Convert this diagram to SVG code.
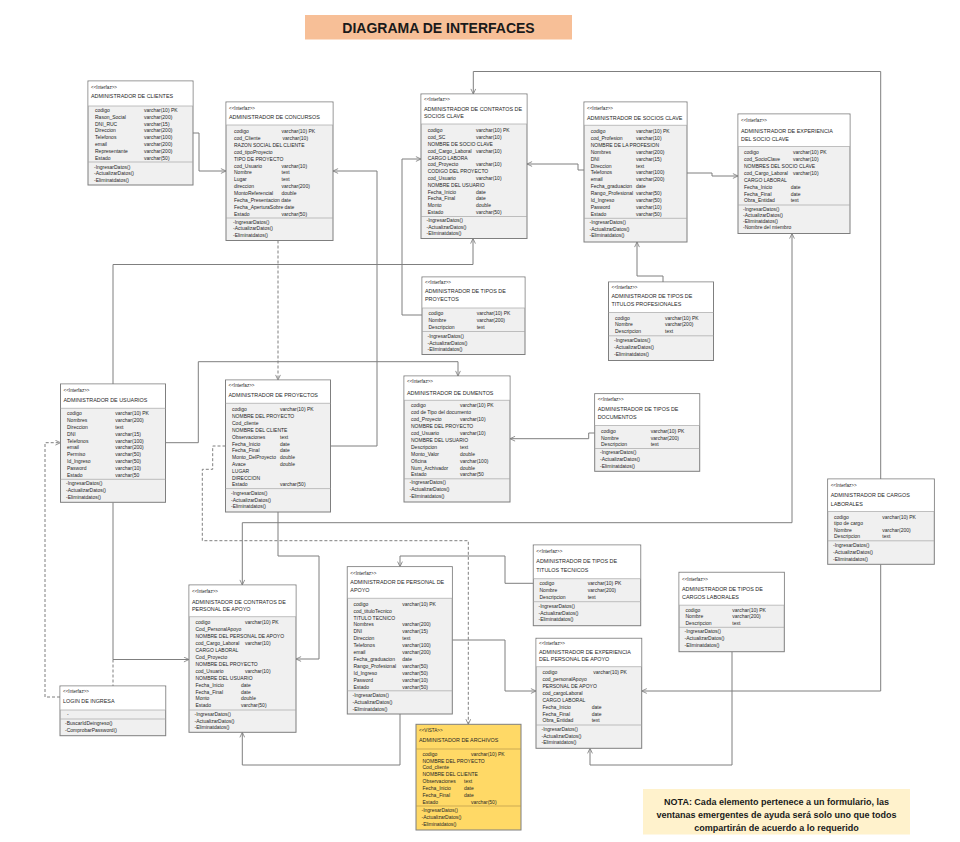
<svg xmlns="http://www.w3.org/2000/svg" width="960" height="842" viewBox="0 0 960 842">
<style>
.b{fill:#F0F0F0;stroke:#7F7F7F;stroke-width:1}
.h{fill:#FFFFFF}
.vb{fill:#FFD966;stroke:#7F7F7F;stroke-width:1}
.s{stroke:#A6A6A6;stroke-width:0.7;fill:none}
text{font-family:"Liberation Sans",Arial,sans-serif;fill:#262626}
.i{font-size:4.6px}
.t{font-size:5.4px}
.r{font-size:5px}
.d{stroke-dasharray:3 2}
.ttl{font-size:14px;font-weight:bold;fill:#1a1a1a}
.nt{font-size:9px;font-weight:bold;fill:#1a1a1a}
</style>
<defs>
<marker id="ah" viewBox="0 0 10 10" refX="9.5" refY="5" markerWidth="6" markerHeight="6" orient="auto" markerUnits="userSpaceOnUse">
<path d="M1,1 L9.5,5 L1,9" fill="none" stroke="#7F7F7F" stroke-width="1.4"/>
</marker>
</defs>
<rect width="960" height="842" fill="#FFFFFF"/>

<g id="title">
<rect x="305" y="15" width="267" height="24.5" fill="#F7BF97"/>
<text class="ttl" x="438.5" y="33" text-anchor="middle">DIAGRAMA DE INTERFACES</text>
</g>

<g id="connectors" fill="none" stroke="#7F7F7F" stroke-width="1">
<path d="M193,133H199V171H226" marker-end="url(#ah)"/>
<path d="M330.5,446H377V171H333" marker-end="url(#ah)"/>
<path d="M422,315H402V159H421" marker-end="url(#ah)"/>
<path d="M113,384V264.5H473V238.5" marker-end="url(#ah)"/>
<path d="M165.5,442.7H198.3V361.7H458V376" marker-end="url(#ah)"/>
<path d="M584,170H578V164H527" marker-end="url(#ah)"/>
<path d="M687,173H712V176H738" marker-end="url(#ah)"/>
<path d="M663,282V276H637V242" marker-end="url(#ah)"/>
<path d="M880.7,479V71.5H473.3V94" marker-end="url(#ah)"/>
<path d="M792,522.7H242.3V585" marker-end="url(#ah)"/>
<path d="M792,522.7V233.5" marker-end="url(#ah)"/>
<path d="M278,512V556H319V659H296" marker-end="url(#ah)"/>
<path d="M113,502.3V659.5H189" marker-end="url(#ah)"/>
<path d="M533.3,583.3H505V556H400V566.7" marker-end="url(#ah)"/>
<path d="M452.3,640H505V691H536" marker-end="url(#ah)"/>
<path d="M400,714V765H242.3V732.3" marker-end="url(#ah)"/>
<path d="M594.7,433H588.7V438.7H510" marker-end="url(#ah)"/>
<path d="M880.7,564.3V691H641.7" marker-end="url(#ah)"/>
<path d="M732,651.7V765H590V748.3" marker-end="url(#ah)"/>
<path class="d" d="M278,240.5V380" marker-end="url(#ah)"/>
<path class="d" d="M225.5,446H212.7V469.3H202.3V540.7H468.3V724.3" marker-end="url(#ah)"/>
<path class="d" d="M60,697H45V442.7H60.5" marker-end="url(#ah)"/>
<path class="d" d="M113,659.5V686"/>
</g>

<g id="clientes">
<rect class="b" x="88" y="81" width="105" height="104"/>
<rect class="h" x="88.5" y="81.5" width="104" height="24.5"/>
<path class="s" d="M88,106H193M88,162H193"/>
<text class="i" x="91" y="88.5">&lt;&lt;Interfaz&gt;&gt;</text>
<text class="t" x="91" y="98.3">ADMINISTRADOR DE CLIENTES</text>
<text class="r"><tspan x="95" y="112">codigo</tspan><tspan x="95" y="118.8">Rason_Social</tspan><tspan x="95" y="125.6">DNI_RUC</tspan><tspan x="95" y="132.4">Direccion</tspan><tspan x="95" y="139.2">Telefonos</tspan><tspan x="95" y="146">email</tspan><tspan x="95" y="152.8">Representante</tspan><tspan x="95" y="159.6">Estado</tspan></text>
<text class="r"><tspan x="144" y="112">varchar(10) PK</tspan><tspan x="144" y="118.8">varchar(200)</tspan><tspan x="144" y="125.6">varchar(15)</tspan><tspan x="144" y="132.4">varchar(200)</tspan><tspan x="144" y="139.2">varchar(100)</tspan><tspan x="144" y="146">varchar(200)</tspan><tspan x="144" y="152.8">varchar(200)</tspan><tspan x="144" y="159.6">varchar(50)</tspan></text>
<text class="r"><tspan x="94" y="168.7">-IngresarDatos()</tspan><tspan x="94" y="175.4">-ActualizarDatos()</tspan><tspan x="94" y="182.1">-Eliminatdatos()</tspan></text>
</g>

<g id="concursos">
<rect class="b" x="226" y="102" width="107" height="138.5"/>
<rect class="h" x="226.5" y="102.5" width="106" height="22.5"/>
<path class="s" d="M226,125H333M226,218H333"/>
<text class="i" x="229" y="109.5">&lt;&lt;Interfaz&gt;&gt;</text>
<text class="t" x="229" y="119.3">ADMINISTRADOR DE CONCURSOS</text>
<text class="r"><tspan x="234" y="133">codigo</tspan><tspan x="234" y="139.9">cod_Cliente</tspan><tspan x="234" y="146.8">RAZON SOCIAL DEL CLIENTE</tspan><tspan x="234" y="153.7">cod_tipoProyecto</tspan><tspan x="234" y="160.6">TIPO DE PROYECTO</tspan><tspan x="234" y="167.5">cod_Usuario</tspan><tspan x="234" y="174.4">Nombre</tspan><tspan x="234" y="181.3">Lugar</tspan><tspan x="234" y="188.2">direccion</tspan><tspan x="234" y="195.1">MontoReferencial</tspan><tspan x="234" y="202">Fecha_Presentacion date</tspan><tspan x="234" y="208.9">Fecha_AperturaSobre date</tspan><tspan x="234" y="215.8">Estado</tspan></text>
<text class="r"><tspan x="281.5" y="133">varchar(10) PK</tspan><tspan x="282.5" y="139.9">varchar(10)</tspan><tspan x="281.5" y="167.5">varchar(10)</tspan><tspan x="281.5" y="174.4">text</tspan><tspan x="281.5" y="181.3">text</tspan><tspan x="281.5" y="188.2">varchar(200)</tspan><tspan x="281.5" y="195.1">double</tspan><tspan x="281.5" y="215.8">varchar(50)</tspan></text>
<text class="r"><tspan x="233" y="223.7">-IngresarDatos()</tspan><tspan x="233" y="230.4">-ActualizarDatos()</tspan><tspan x="233" y="237">-Eliminatdatos()</tspan></text>
</g>

<g id="contratos-socios-clave">
<rect class="b" x="421" y="94" width="106" height="144.5"/>
<rect class="h" x="421.5" y="94.5" width="105" height="29.5"/>
<path class="s" d="M421,124H527M421,216.5H527"/>
<text class="i" x="424" y="101">&lt;&lt;Interfaz&gt;&gt;</text>
<text class="t"><tspan x="424" y="110.5">ADMINISTRADOR DE CONTRATOS DE</tspan><tspan x="424" y="118">SOCIOS CLAVE</tspan></text>
<text class="r"><tspan x="427.7" y="132.4">codigo</tspan><tspan x="427.7" y="139.2">cod_SC</tspan><tspan x="427.7" y="146">NOMBRE DE SOCIO CLAVE</tspan><tspan x="427.7" y="152.8">cod_Cargo_Laboral</tspan><tspan x="427.7" y="159.6">CARGO LABORA</tspan><tspan x="427.7" y="166.4">cod_Proyecto</tspan><tspan x="427.7" y="173.2">CODIGO DEL PROYECTO</tspan><tspan x="427.7" y="180">cod_Usuario</tspan><tspan x="427.7" y="186.8">NOMBRE DEL USUARIO</tspan><tspan x="427.7" y="193.6">Fecha_Inicio</tspan><tspan x="427.7" y="200.4">Fecha_Final</tspan><tspan x="427.7" y="207.2">Monto</tspan><tspan x="427.7" y="214">Estado</tspan></text>
<text class="r"><tspan x="476" y="132.4">varchar(10) PK</tspan><tspan x="476" y="139.2">varchar(10)</tspan><tspan x="476" y="152.8">varchar(10)</tspan><tspan x="476" y="166.4">varchar(10)</tspan><tspan x="476" y="180">varchar(10)</tspan><tspan x="476" y="193.6">date</tspan><tspan x="476" y="200.4">date</tspan><tspan x="476" y="207.2">double</tspan><tspan x="476" y="214">varchar(50)</tspan></text>
<text class="r"><tspan x="426.5" y="222.4">-IngresarDatos()</tspan><tspan x="426.5" y="228.8">-ActualizarDatos()</tspan><tspan x="426.5" y="235.2">-Eliminatdatos()</tspan></text>
</g>

<g id="socios-clave">
<rect class="b" x="584" y="102" width="103" height="140"/>
<rect class="h" x="584.5" y="102.5" width="102" height="22.8"/>
<path class="s" d="M584,125.3H687M584,218.3H687"/>
<text class="i" x="587" y="110.2">&lt;&lt;Interfaz&gt;&gt;</text>
<text class="t" x="587" y="120">ADMINISTRADOR DE SOCIOS CLAVE</text>
<text class="r"><tspan x="590.7" y="133">codigo</tspan><tspan x="590.7" y="139.9">cod_Profesion</tspan><tspan x="590.7" y="146.8">NOMBRE DE LA PROFESION</tspan><tspan x="590.7" y="153.7">Nombres</tspan><tspan x="590.7" y="160.6">DNI</tspan><tspan x="590.7" y="167.5">Direccion</tspan><tspan x="590.7" y="174.4">Telefonos</tspan><tspan x="590.7" y="181.3">email</tspan><tspan x="590.7" y="188.2">Fecha_graduacion</tspan><tspan x="590.7" y="195.1">Rango_Profesional</tspan><tspan x="590.7" y="202">Id_Ingreso</tspan><tspan x="590.7" y="208.9">Pasword</tspan><tspan x="590.7" y="215.8">Estado</tspan></text>
<text class="r"><tspan x="636" y="133">varchar(10) PK</tspan><tspan x="636" y="139.9">varchar(10)</tspan><tspan x="636" y="153.7">varchar(200)</tspan><tspan x="636" y="160.6">varchar(15)</tspan><tspan x="636" y="167.5">text</tspan><tspan x="636" y="174.4">varchar(100)</tspan><tspan x="636" y="181.3">varchar(200)</tspan><tspan x="636" y="188.2">date</tspan><tspan x="636" y="195.1">varchar(50)</tspan><tspan x="636" y="202">varchar(50)</tspan><tspan x="636" y="208.9">varchar(10)</tspan><tspan x="636" y="215.8">varchar(50)</tspan></text>
<text class="r"><tspan x="589.5" y="224.4">-IngresarDatos()</tspan><tspan x="589.5" y="230.8">-ActualizarDatos()</tspan><tspan x="589.5" y="237.2">-Eliminatdatos()</tspan></text>
</g>

<g id="experiencia-socio-clave">
<rect class="b" x="738" y="114" width="112" height="119.5"/>
<rect class="h" x="738.5" y="114.5" width="111" height="32"/>
<path class="s" d="M738,146.5H850M738,205H850"/>
<text class="i" x="741" y="121.5">&lt;&lt;Interfaz&gt;&gt;</text>
<text class="t"><tspan x="741" y="132.5">ADMINISTRADOR DE EXPERIENCIA</tspan><tspan x="741" y="140.5">DEL SOCIO CLAVE</tspan></text>
<text class="r"><tspan x="744" y="154.4">codigo</tspan><tspan x="744" y="161.2">cod_SocioClave</tspan><tspan x="744" y="168.1">NOMBRES DEL SOCIO CLAVE</tspan><tspan x="744" y="174.9">cod_Cargo_Laboral</tspan><tspan x="744" y="181.8">CARGO LABORAL</tspan><tspan x="744" y="188.6">Fecha_Inicio</tspan><tspan x="744" y="195.5">Fecha_Final</tspan><tspan x="744" y="202.3">Obra_Entidad</tspan></text>
<text class="r"><tspan x="793" y="154.4">varchar(10) PK</tspan><tspan x="793" y="161.2">varchar(10)</tspan><tspan x="793" y="174.9">varchar(10)</tspan><tspan x="790.7" y="188.6">date</tspan><tspan x="790.7" y="195.5">date</tspan><tspan x="790.7" y="202.3">text</tspan></text>
<text class="r"><tspan x="743" y="210.8">-IngresarDatos()</tspan><tspan x="743" y="217">-ActualizarDatos()</tspan><tspan x="743" y="223.2">-Eliminatdatos()</tspan><tspan x="743" y="229.4">-Nombre del miembro</tspan></text>
</g>

<g id="tipos-proyectos">
<rect class="b" x="422" y="277" width="103" height="77.5"/>
<rect class="h" x="422.5" y="277.5" width="102" height="30.5"/>
<path class="s" d="M422,308H525M422,331.5H525"/>
<text class="i" x="425" y="284">&lt;&lt;Interfaz&gt;&gt;</text>
<text class="t"><tspan x="425" y="293.3">ADMINISTRADOR DE TIPOS DE</tspan><tspan x="425" y="301.3">PROYECTOS</tspan></text>
<text class="r"><tspan x="428.5" y="315">codigo</tspan><tspan x="428.5" y="322">Nombre</tspan><tspan x="428.5" y="329">Descripcion</tspan></text>
<text class="r"><tspan x="476.7" y="315">varchar(10) PK</tspan><tspan x="476.7" y="322">varchar(200)</tspan><tspan x="476.7" y="329">text</tspan></text>
<text class="r"><tspan x="427.5" y="338">-IngresarDatos()</tspan><tspan x="427.5" y="344.7">-ActualizarDatos()</tspan><tspan x="427.5" y="351.3">-Eliminatdatos()</tspan></text>
</g>

<g id="tipos-titulos-profesionales">
<rect class="b" x="608.5" y="282" width="105" height="78.5"/>
<rect class="h" x="609" y="282.5" width="104" height="30"/>
<path class="s" d="M608.5,312.5H713.5M608.5,335.8H713.5"/>
<text class="i" x="611.5" y="288.7">&lt;&lt;Interfaz&gt;&gt;</text>
<text class="t"><tspan x="611.5" y="298.3">ADMINISTRADOR DE TIPOS DE</tspan><tspan x="611.5" y="306.3">TITULOS PROFESIONALES</tspan></text>
<text class="r"><tspan x="615" y="319.7">codigo</tspan><tspan x="615" y="326.4">Nombre</tspan><tspan x="615" y="333.1">Descripcion</tspan></text>
<text class="r"><tspan x="665" y="319.7">varchar(10) PK</tspan><tspan x="665" y="326.4">varchar(200)</tspan><tspan x="665" y="333.1">text</tspan></text>
<text class="r"><tspan x="614" y="342.4">-IngresarDatos()</tspan><tspan x="614" y="349">-ActualizarDatos()</tspan><tspan x="614" y="355.6">-Eliminatdatos()</tspan></text>
</g>

<g id="usuarios">
<rect class="b" x="60.5" y="384" width="105" height="118.3"/>
<rect class="h" x="61" y="384.5" width="104" height="23.8"/>
<path class="s" d="M60.5,408.3H165.5M60.5,479.3H165.5"/>
<text class="i" x="63.5" y="391.5">&lt;&lt;Interfaz&gt;&gt;</text>
<text class="t" x="63.5" y="401.7">ADMINISTRADOR DE USUARIOS</text>
<text class="r"><tspan x="67" y="415.4">codigo</tspan><tspan x="67" y="422.2">Nombres</tspan><tspan x="67" y="429">Direccion</tspan><tspan x="67" y="435.8">DNI</tspan><tspan x="67" y="442.6">Telefonos</tspan><tspan x="67" y="449.4">email</tspan><tspan x="67" y="456.2">Permiso</tspan><tspan x="67" y="463">Id_Ingreso</tspan><tspan x="67" y="469.8">Pasword</tspan><tspan x="67" y="476.6">Estado</tspan></text>
<text class="r"><tspan x="115.3" y="415.4">varchar(10) PK</tspan><tspan x="115.3" y="422.2">varchar(200)</tspan><tspan x="115.3" y="429">text</tspan><tspan x="115.3" y="435.8">varchar(15)</tspan><tspan x="115.3" y="442.6">varchar(100)</tspan><tspan x="115.3" y="449.4">varchar(200)</tspan><tspan x="115.3" y="456.2">varchar(50)</tspan><tspan x="115.3" y="463">varchar(50)</tspan><tspan x="115.3" y="469.8">varchar(10)</tspan><tspan x="115.3" y="476.6">varchar(50</tspan></text>
<text class="r"><tspan x="66" y="485.4">-IngresarDatos()</tspan><tspan x="66" y="492">-ActualizarDatos()</tspan><tspan x="66" y="498.7">-Eliminatdatos()</tspan></text>
</g>

<g id="proyectos">
<rect class="b" x="225.5" y="380" width="105" height="132"/>
<rect class="h" x="226" y="380.5" width="104" height="22.8"/>
<path class="s" d="M225.5,403.3H330.5M225.5,488.6H330.5"/>
<text class="i" x="228.5" y="387.2">&lt;&lt;Interfaz&gt;&gt;</text>
<text class="t" x="228.5" y="397.3">ADMINISTRADOR DE PROYECTOS</text>
<text class="r"><tspan x="232" y="411.4">codigo</tspan><tspan x="232" y="418.2">NOMBRE DEL PROYECTO</tspan><tspan x="232" y="425">Cod_cliente</tspan><tspan x="232" y="431.9">NOMBRE DEL CLIENTE</tspan><tspan x="232" y="438.7">Observaciones</tspan><tspan x="232" y="445.5">Fecha_Inicio</tspan><tspan x="232" y="452.3">Fecha_Final</tspan><tspan x="232" y="459.1">Monto_DelProyecto</tspan><tspan x="232" y="466">Avace</tspan><tspan x="232" y="472.8">LUGAR</tspan><tspan x="232" y="479.6">DIRECCION</tspan><tspan x="232" y="486.4">Estado</tspan></text>
<text class="r"><tspan x="280" y="411.4">varchar(10) PK</tspan><tspan x="280" y="438.7">text</tspan><tspan x="280" y="445.5">date</tspan><tspan x="280" y="452.3">date</tspan><tspan x="280" y="459.1">double</tspan><tspan x="280" y="466">double</tspan><tspan x="280" y="486.4">varchar(50)</tspan></text>
<text class="r"><tspan x="231" y="495">-IngresarDatos()</tspan><tspan x="231" y="501.7">-ActualizarDatos()</tspan><tspan x="231" y="508.4">-Eliminatdatos()</tspan></text>
</g>

<g id="documentos">
<rect class="b" x="404" y="376" width="106" height="126"/>
<rect class="h" x="404.5" y="376.5" width="105" height="23.8"/>
<path class="s" d="M404,400.3H510M404,478.8H510"/>
<text class="i" x="407" y="382.8">&lt;&lt;Interfaz&gt;&gt;</text>
<text class="t" x="407" y="394.7">ADMINISTRADOR DE DUMENTOS</text>
<text class="r"><tspan x="411" y="407.4">codigo</tspan><tspan x="411" y="414.3">cod de Tipo del documento</tspan><tspan x="411" y="421.2">cod_Proyecto</tspan><tspan x="411" y="428.1">NOMBRE DEL PROYECTO</tspan><tspan x="411" y="435">cod_Usuario</tspan><tspan x="411" y="441.9">NOMBRE DEL USUARIO</tspan><tspan x="411" y="448.8">Descripcion</tspan><tspan x="411" y="455.7">Monto_Valor</tspan><tspan x="411" y="462.6">Oficina</tspan><tspan x="411" y="469.5">Num_Archivador</tspan><tspan x="411" y="476.4">Estado</tspan></text>
<text class="r"><tspan x="460" y="407.4">varchar(10) PK</tspan><tspan x="460" y="421.2">varchar(10)</tspan><tspan x="460" y="435">varchar(10)</tspan><tspan x="460" y="448.8">text</tspan><tspan x="460" y="455.7">double</tspan><tspan x="460" y="462.6">varchar(100)</tspan><tspan x="460" y="469.5">double</tspan><tspan x="460" y="476.4">varchar(50</tspan></text>
<text class="r"><tspan x="409.5" y="484.4">-IngresarDatos()</tspan><tspan x="409.5" y="491.4">-ActualizarDatos()</tspan><tspan x="409.5" y="498.2">-Eliminatdatos()</tspan></text>
</g>

<g id="tipos-documentos">
<rect class="b" x="594.7" y="393.7" width="105" height="77.6"/>
<rect class="h" x="595.2" y="394.2" width="104" height="31.3"/>
<path class="s" d="M594.7,425.5H699.7M594.7,448.5H699.7"/>
<text class="i" x="597.7" y="400.8">&lt;&lt;Interfaz&gt;&gt;</text>
<text class="t"><tspan x="597.7" y="411.2">ADMINISTRADOR DE TIPOS DE</tspan><tspan x="597.7" y="419.2">DOCUMENTOS</tspan></text>
<text class="r"><tspan x="601" y="432.8">codigo</tspan><tspan x="601" y="439.5">Nombre</tspan><tspan x="601" y="446.2">Descripcion</tspan></text>
<text class="r"><tspan x="650.7" y="432.8">varchar(10) PK</tspan><tspan x="650.7" y="439.5">varchar(200)</tspan><tspan x="650.7" y="446.2">text</tspan></text>
<text class="r"><tspan x="600" y="454.4">-IngresarDatos()</tspan><tspan x="600" y="461.1">-ActualizarDatos()</tspan><tspan x="600" y="467.8">-Eliminatdatos()</tspan></text>
</g>

<g id="cargos-laborales">
<rect class="b" x="827.7" y="479" width="106.6" height="85.3"/>
<rect class="h" x="828.2" y="479.5" width="105.6" height="32"/>
<path class="s" d="M827.7,511.5H934.3M827.7,540.8H934.3"/>
<text class="i" x="830.7" y="486.5">&lt;&lt;Interfaz&gt;&gt;</text>
<text class="t"><tspan x="830.7" y="497.4">ADMINISTRADOR DE CARGOS</tspan><tspan x="830.7" y="506">LABORALES</tspan></text>
<text class="r"><tspan x="834" y="518.8">codigo</tspan><tspan x="834" y="525.3">tipo de cargo</tspan><tspan x="834" y="531.8">Nombre</tspan><tspan x="834" y="538.3">Descripcion</tspan></text>
<text class="r"><tspan x="882.3" y="518.8">varchar(10) PK</tspan><tspan x="882.3" y="531.8">varchar(200)</tspan><tspan x="882.3" y="538.3">text</tspan></text>
<text class="r"><tspan x="833" y="547.3">-IngresarDatos()</tspan><tspan x="833" y="554.1">-ActualizarDatos()</tspan><tspan x="833" y="560.9">-Eliminatdatos()</tspan></text>
</g>

<g id="tipos-titulos-tecnicos">
<rect class="b" x="533.3" y="545" width="107.4" height="80.7"/>
<rect class="h" x="533.8" y="545.5" width="106.4" height="33.2"/>
<path class="s" d="M533.3,578.7H640.7M533.3,601.7H640.7"/>
<text class="i" x="536.3" y="553">&lt;&lt;Interfaz&gt;&gt;</text>
<text class="t"><tspan x="536.3" y="563.4">ADMINISTRADOR DE TIPOS DE</tspan><tspan x="536.3" y="572.4">TITULOS TECNICOS</tspan></text>
<text class="r"><tspan x="539.5" y="585">codigo</tspan><tspan x="539.5" y="592">Nombre</tspan><tspan x="539.5" y="599">Descripcion</tspan></text>
<text class="r"><tspan x="587.7" y="585">varchar(10) PK</tspan><tspan x="587.7" y="592">varchar(200)</tspan><tspan x="587.7" y="599">text</tspan></text>
<text class="r"><tspan x="538.5" y="608">-IngresarDatos()</tspan><tspan x="538.5" y="614.5">-ActualizarDatos()</tspan><tspan x="538.5" y="621">-Eliminatdatos()</tspan></text>
</g>

<g id="tipos-cargos-laborales">
<rect class="b" x="679" y="572.3" width="105.3" height="79.4"/>
<rect class="h" x="679.5" y="572.8" width="104.3" height="32.4"/>
<path class="s" d="M679,605.2H784.3M679,627.3H784.3"/>
<text class="i" x="682" y="580.6">&lt;&lt;Interfaz&gt;&gt;</text>
<text class="t"><tspan x="682" y="590.7">ADMINISTRADOR DE TIPOS DE</tspan><tspan x="682" y="599.4">CARGOS LABORALES</tspan></text>
<text class="r"><tspan x="685.5" y="611.5">codigo</tspan><tspan x="685.5" y="618.2">Nombre</tspan><tspan x="685.5" y="624.9">Descripcion</tspan></text>
<text class="r"><tspan x="732.3" y="611.5">varchar(10) PK</tspan><tspan x="732.3" y="618.2">varchar(200)</tspan><tspan x="732.3" y="624.9">text</tspan></text>
<text class="r"><tspan x="684.5" y="633.4">-IngresarDatos()</tspan><tspan x="684.5" y="640.3">-ActualizarDatos()</tspan><tspan x="684.5" y="647.2">-Eliminatdatos()</tspan></text>
</g>

<g id="experiencia-personal-apoyo">
<rect class="b" x="536" y="638.3" width="105.7" height="110"/>
<rect class="h" x="536.5" y="638.8" width="104.7" height="27.9"/>
<path class="s" d="M536,666.7H641.7M536,725H641.7"/>
<text class="i" x="539" y="645">&lt;&lt;Interfaz&gt;&gt;</text>
<text class="t"><tspan x="539" y="653.5">ADMINISTRADOR DE EXPERIENCIA</tspan><tspan x="539" y="661">DEL PERSONAL DE APOYO</tspan></text>
<text class="r"><tspan x="542.5" y="674.4">codigo</tspan><tspan x="542.5" y="681.2">cod_personalApoyo</tspan><tspan x="542.5" y="688.1">PERSONAL DE APOYO</tspan><tspan x="542.5" y="694.9">cod_cargoLaboral</tspan><tspan x="542.5" y="701.8">CARGO LABORAL</tspan><tspan x="542.5" y="708.6">Fecha_Inicio</tspan><tspan x="542.5" y="715.5">Fecha_Final</tspan><tspan x="542.5" y="722.3">Obra_Entidad</tspan></text>
<text class="r"><tspan x="593.3" y="674.4">varchar(10) PK</tspan><tspan x="591.7" y="708.6">date</tspan><tspan x="591.7" y="715.5">date</tspan><tspan x="591.7" y="722.3">text</tspan></text>
<text class="r"><tspan x="541.5" y="731">-IngresarDatos()</tspan><tspan x="541.5" y="737.7">-ActualizarDatos()</tspan><tspan x="541.5" y="744.4">-Eliminatdatos()</tspan></text>
</g>

<g id="contratos-personal-apoyo">
<rect class="b" x="189" y="585" width="107" height="147.3"/>
<rect class="h" x="189.5" y="585.5" width="106" height="31.2"/>
<path class="s" d="M189,616.7H296M189,710H296"/>
<text class="i" x="192" y="593">&lt;&lt;Interfaz&gt;&gt;</text>
<text class="t"><tspan x="192" y="604">ADMINISTADOR DE CONTRATOS DE</tspan><tspan x="192" y="611">PERSONAL DE APOYO</tspan></text>
<text class="r"><tspan x="195.5" y="624">codigo</tspan><tspan x="195.5" y="630.9">Cod_PersonalApoyo</tspan><tspan x="195.5" y="637.9">NOMBRE DEL PERSONAL DE APOYO</tspan><tspan x="195.5" y="644.8">cod_Cargo_Laboral</tspan><tspan x="195.5" y="651.8">CARGO LABORAL</tspan><tspan x="195.5" y="658.7">Cod_Proyecto</tspan><tspan x="195.5" y="665.7">NOMBRE DEL PROYECTO</tspan><tspan x="195.5" y="672.6">cod_Usuario</tspan><tspan x="195.5" y="679.6">NOMBRE DEL USUARIO</tspan><tspan x="195.5" y="686.5">Fecha_Inicio</tspan><tspan x="195.5" y="693.5">Fecha_Final</tspan><tspan x="195.5" y="700.4">Monto</tspan><tspan x="195.5" y="707.4">Estado</tspan></text>
<text class="r"><tspan x="245" y="624">varchar(10) PK</tspan><tspan x="245" y="644.8">varchar(10)</tspan><tspan x="245" y="672.6">varchar(10)</tspan><tspan x="241" y="686.5">date</tspan><tspan x="241" y="693.5">date</tspan><tspan x="241" y="700.4">double</tspan><tspan x="241" y="707.4">varchar(50)</tspan></text>
<text class="r"><tspan x="194.5" y="716.4">-IngresarDatos()</tspan><tspan x="194.5" y="722.6">-ActualizarDatos()</tspan><tspan x="194.5" y="728.9">-Eliminatdatos()</tspan></text>
</g>

<g id="personal-apoyo">
<rect class="b" x="347.3" y="566.7" width="105" height="147.3"/>
<rect class="h" x="347.8" y="567.2" width="104" height="31.1"/>
<path class="s" d="M347.3,598.3H452.3M347.3,690.8H452.3"/>
<text class="i" x="350.3" y="574.6">&lt;&lt;Interfaz&gt;&gt;</text>
<text class="t"><tspan x="350.3" y="584.4">ADMINISTRADOR DE PERSONAL DE</tspan><tspan x="350.3" y="592.4">APOYO</tspan></text>
<text class="r"><tspan x="353.5" y="605.7">codigo</tspan><tspan x="353.5" y="612.6">cod_tituloTecnico</tspan><tspan x="353.5" y="619.5">TITULO TECNICO</tspan><tspan x="353.5" y="626.4">Nombres</tspan><tspan x="353.5" y="633.3">DNI</tspan><tspan x="353.5" y="640.2">Direccion</tspan><tspan x="353.5" y="647.1">Telefonos</tspan><tspan x="353.5" y="654">email</tspan><tspan x="353.5" y="660.9">Fecha_graduacion</tspan><tspan x="353.5" y="667.8">Rango_Profesional</tspan><tspan x="353.5" y="674.7">Id_Ingreso</tspan><tspan x="353.5" y="681.6">Pasword</tspan><tspan x="353.5" y="688.5">Estado</tspan></text>
<text class="r"><tspan x="402.3" y="605.7">varchar(10) PK</tspan><tspan x="402.3" y="626.4">varchar(200)</tspan><tspan x="402.3" y="633.3">varchar(15)</tspan><tspan x="402.3" y="640.2">text</tspan><tspan x="402.3" y="647.1">varchar(100)</tspan><tspan x="402.3" y="654">varchar(200)</tspan><tspan x="402.3" y="660.9">date</tspan><tspan x="402.3" y="667.8">varchar(50)</tspan><tspan x="402.3" y="674.7">varchar(50)</tspan><tspan x="402.3" y="681.6">varchar(10)</tspan><tspan x="402.3" y="688.5">varchar(50)</tspan></text>
<text class="r"><tspan x="352.5" y="697.4">-IngresarDatos()</tspan><tspan x="352.5" y="704">-ActualizarDatos()</tspan><tspan x="352.5" y="710.6">-Eliminatdatos()</tspan></text>
</g>

<g id="login">
<rect class="b" x="60" y="686" width="105.7" height="49.7"/>
<rect class="h" x="60.5" y="686.5" width="104.7" height="23.5"/>
<path class="s" d="M60,710H165.7M60,719H165.7"/>
<text class="i" x="63" y="693.2">&lt;&lt;Interfaz&gt;&gt;</text>
<text class="t" x="63" y="703.4">LOGIN DE INGRESA</text>
<text class="r" x="67" y="716.2">-</text>
<text class="r"><tspan x="65" y="725.4">-BuscarIdDeingreso()</tspan><tspan x="65" y="732.2">-ComprobarPassword()</tspan></text>
</g>

<g id="archivos">
<rect class="vb" x="416" y="724.3" width="105" height="105.7"/>
<path class="s" d="M416,749H521M416,806H521" style="stroke:#B89A4A"/>
<text class="i" x="419" y="731.5">&lt;&lt;VISTA&gt;&gt;</text>
<text class="t" x="419" y="742">ADMINISTADOR DE ARCHIVOS</text>
<text class="r"><tspan x="422.5" y="755.7">codigo</tspan><tspan x="422.5" y="762.6">NOMBRE DEL PROYECTO</tspan><tspan x="422.5" y="769.4">Cod_cliente</tspan><tspan x="422.5" y="776.3">NOMBRE DEL CLIENTE</tspan><tspan x="422.5" y="783.1">Observaciones</tspan><tspan x="422.5" y="790">Fecha_Inicio</tspan><tspan x="422.5" y="796.9">Fecha_Final</tspan><tspan x="422.5" y="803.7">Estado</tspan></text>
<text class="r"><tspan x="471" y="755.7">varchar(10) PK</tspan><tspan x="464" y="783.1">text</tspan><tspan x="464" y="790">date</tspan><tspan x="464" y="796.9">date</tspan><tspan x="471" y="803.7">varchar(50)</tspan></text>
<text class="r"><tspan x="421.5" y="812.4">-IngresarDatos()</tspan><tspan x="421.5" y="819">-ActualizarDatos()</tspan><tspan x="421.5" y="825.6">-Eliminatdatos()</tspan></text>
</g>

<g id="nota">
<rect x="643" y="789" width="267" height="45.5" fill="#FFF2CC"/>
<text class="nt" text-anchor="middle"><tspan x="776.5" y="804.5">NOTA: Cada elemento pertenece a un formulario, las</tspan><tspan x="776.5" y="817.5">ventanas emergentes de ayuda será solo uno que todos</tspan><tspan x="776.5" y="830.5">compartirán de acuerdo a lo requerido</tspan></text>
</g>
</svg>
